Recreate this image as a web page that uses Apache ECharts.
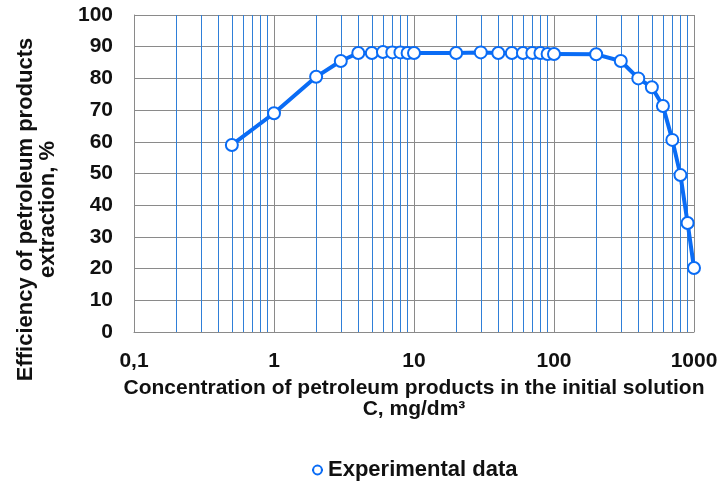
<!DOCTYPE html>
<html>
<head>
<meta charset="utf-8">
<script src="https://cdn.jsdelivr.net/npm/echarts@6/dist/echarts.min.js"></script>
<style>html,body{margin:0;padding:0;background:#fff}#c{width:721px;height:485px}</style>
</head>
<body>
<div id="c"></div>
<script>
var concentration = [0.5, 1, 2, 3, 4, 5, 6, 7, 8, 9, 10, 20, 30, 40, 50, 60, 70, 80, 90, 100, 200, 300, 400, 500, 600, 700, 800, 900, 1000];
var efficiency = [59, 69, 80.5, 85.5, 88, 88, 88.3, 88.2, 88.2, 88, 88, 88, 88.2, 88, 88, 88, 88, 88, 87.7, 87.7, 87.6, 85.5, 80, 77.2, 71.3, 60.6, 49.5, 34.4, 20.2];
var seriesName = 'Experimental data';
var xTitle = 'Concentration of petroleum products in the initial solution\nC, mg/dm³';
var yTitle = 'Efficiency of petroleum products\nextraction, %';

var points = concentration.map(function (c, i) { return [c, efficiency[i]]; });
var font = '"Liberation Sans", Arial, sans-serif';
var chart = echarts.init(document.getElementById('c'));
chart.setOption({
  animation: false,
  textStyle: { fontFamily: font },
  grid: { left: 134, right: 27, top: 15, bottom: 153, containLabel: false, outerBoundsMode: 'none' },
  xAxis: {
    type: 'log', logBase: 10, min: 0.1, max: 1000,
    axisLine: { lineStyle: { color: '#8a8a8a', width: 1 } },
    axisTick: { show: false },
    axisLabel: {
      margin: 19, fontSize: 21, fontWeight: 'bold', color: '#111',
      formatter: function (v) { return String(v).replace('.', ','); }
    },
    splitLine: { show: true, lineStyle: { color: '#8a8a8a', width: 1 } },
    minorTick: { show: false, splitNumber: 9 },
    minorSplitLine: { show: true, lineStyle: { color: '#2f7fd8', width: 1 } },
    name: xTitle, nameLocation: 'middle', nameGap: 46,
    nameTextStyle: { fontSize: 21, fontWeight: 'bold', color: '#111', lineHeight: 21 }
  },
  yAxis: {
    type: 'value', min: 0, max: 100, interval: 10,
    axisLine: { show: true, lineStyle: { color: '#8a8a8a', width: 1 } },
    axisTick: { show: false },
    axisLabel: { margin: 21, fontSize: 21, fontWeight: 'bold', color: '#111' },
    splitLine: { show: true, lineStyle: { color: '#8a8a8a', width: 1 } },
    name: yTitle, nameLocation: 'middle', nameGap: 75, nameRotate: 90,
    nameTextStyle: { fontSize: 22, fontWeight: 'bold', color: '#111', lineHeight: 22, padding: [0, 72, 0, 0] }
  },
  legend: {
    left: 306, top: 454,
    itemWidth: 11, itemHeight: 11, itemGap: 8,
    textStyle: { fontSize: 22, fontWeight: 'bold', color: '#111', fontFamily: font },
    data: [seriesName]
  },
  series: [{
    name: seriesName, type: 'line', data: points, z: 3,
    symbol: 'circle', symbolSize: 12, showSymbol: true,
    lineStyle: { color: '#0a6cf5', width: 4 },
    itemStyle: { color: '#ffffff', borderColor: '#0a6cf5', borderWidth: 2 }
  }]
});
</script>
</body>
</html>
